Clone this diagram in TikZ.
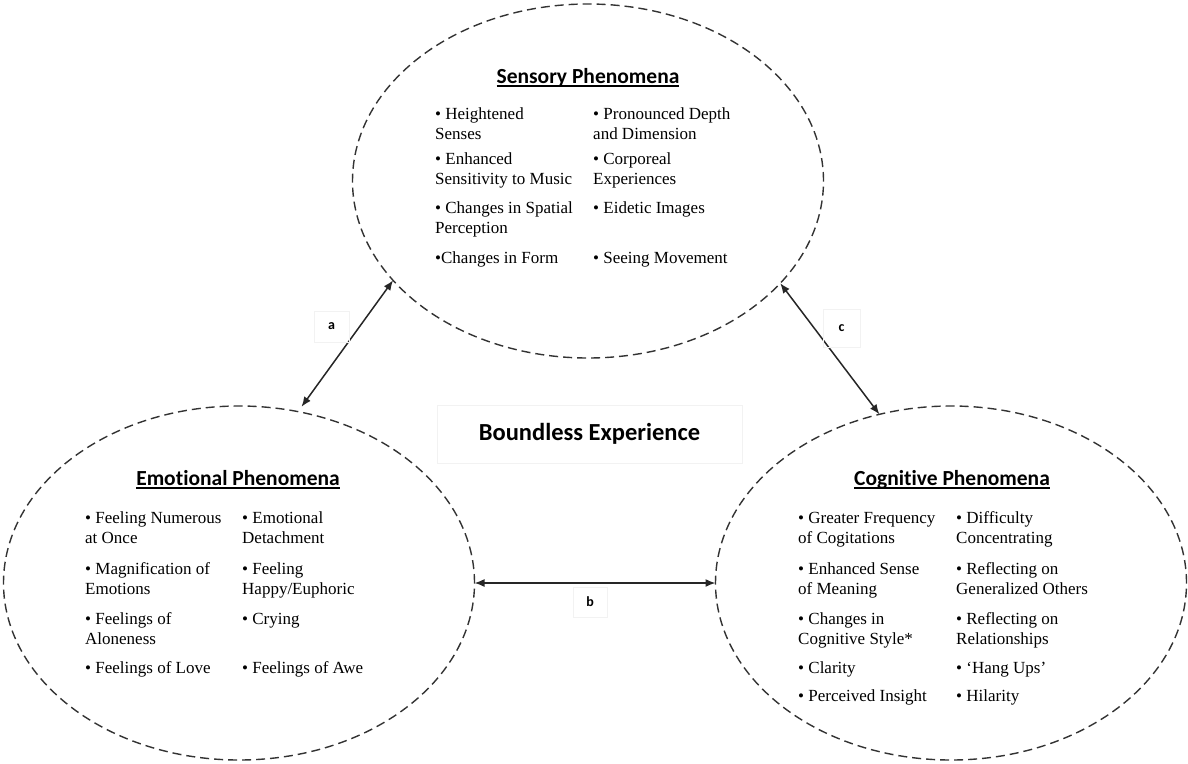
\documentclass[tikz,border=0pt]{standalone}
\usepackage{fontspec}
\setmainfont{Liberation Serif}
\newfontfamily\headfont[Ligatures=NoCommon]{Carlito}
\usetikzlibrary{shapes.geometric, arrows.meta}

% underlined heading with a thicker rule
\newsavebox{\headbox}
\newcommand{\ulhead}[1]{\sbox{\headbox}{#1}\rlap{\rule[-3.6pt]{\wd\headbox}{1.3pt}}\usebox{\headbox}}
% end a list row and leave a fixed gap below it
\newcommand{\nextrow}[1]{\\\noalign{\vskip#1}}

\begin{document}
\begin{tikzpicture}[
    x=1pt, y=-1pt,
    phenom/.style={
        ellipse, draw=black!80, line width=1.4pt,
        dash pattern=on 9pt off 5pt,
        minimum width=471pt, minimum height=354pt,
        inner sep=0pt, outer sep=0pt
    },
    heading/.style={
        font=\headfont\bfseries\fontsize{21.5}{24}\selectfont,
        inner sep=0pt, anchor=base
    },
    itemlist/.style={
        font=\fontsize{17}{20}\selectfont,
        inner sep=0pt, anchor=north west
    },
    tag/.style={
        draw=black!5, font=\headfont\bfseries\fontsize{14}{16}\selectfont,
        inner sep=0pt
    },
    link/.style={{Latex[length=10pt,width=8pt]}-{Latex[length=10pt,width=8pt]},
        line width=1.5pt, black!85}
]
\useasboundingbox (0,0) rectangle (1188,763);

% The three domains
\node[phenom] (sens) at (588,181) {};
\node[phenom] (emo) at (239,583) {};
\node[phenom] (cog) at (951,583) {};

% Headings
\node[heading] (sensTitle) at (588,83) {\ulhead{Sensory Phenomena}};
\node[heading] (emoTitle) at (238,485) {\ulhead{Emotional Phenomena}};
\node[heading] (cogTitle) at (952,485) {\ulhead{Cognitive Phenomena}};

% Item lists
\node[itemlist] (sensList) at (435,105) {%
\begin{tabular}{@{}p{158pt}@{}p{180pt}@{}}
• Heightened\newline Senses & • Pronounced Depth\newline and Dimension\nextrow{5pt}
• Enhanced\newline Sensitivity to Music & • Corporeal\newline Experiences\nextrow{9pt}
• Changes in Spatial\newline Perception & • Eidetic Images\nextrow{10pt}
•Changes in Form & • Seeing Movement
\end{tabular}};

\node[itemlist] (emoList) at (85,509) {%
\begin{tabular}{@{}p{157pt}@{}p{180pt}@{}}
• Feeling Numerous\newline at Once & • Emotional\newline Detachment\nextrow{11pt}
• Magnification of\newline Emotions & • Feeling\newline Happy/Euphoric\nextrow{10pt}
• Feelings of\newline Aloneness & • Crying\nextrow{9pt}
• Feelings of Love & • Feelings of Awe
\end{tabular}};

\node[itemlist] (cogList) at (798,509) {%
\begin{tabular}{@{}p{158pt}@{}p{180pt}@{}}
• Greater Frequency\newline of Cogitations & • Difficulty\newline Concentrating\nextrow{11pt}
• Enhanced Sense\newline of Meaning & • Reflecting on\newline Generalized Others\nextrow{10pt}
• Changes in\newline Cognitive Style* & • Reflecting on\newline Relationships\nextrow{9pt}
• Clarity & • ‘Hang Ups’\nextrow{8pt}
• Perceived Insight & • Hilarity
\end{tabular}};

% Centre label
\node[draw=black!5, font=\headfont\bfseries\fontsize{24.5}{28}\selectfont,
    minimum width=305pt, minimum height=58pt] (boundless) at (589.5,434) {Boundless Experience};

% Links between domains
\draw[link, shorten <=6pt] (emo.71) -- (sens.207);
\draw[link] (emo.east) -- (cog.west);
\draw[link] (sens.332) -- (cog.113);

\node[tag, minimum width=35pt, minimum height=31pt] (tagA) at (331.5,326.5) {a};
\node[tag, minimum width=34pt, minimum height=30pt] (tagB) at (590,602) {b};
\node[tag, minimum width=37pt, minimum height=38pt] (tagC) at (841.5,328) {c};

\end{tikzpicture}
\end{document}
